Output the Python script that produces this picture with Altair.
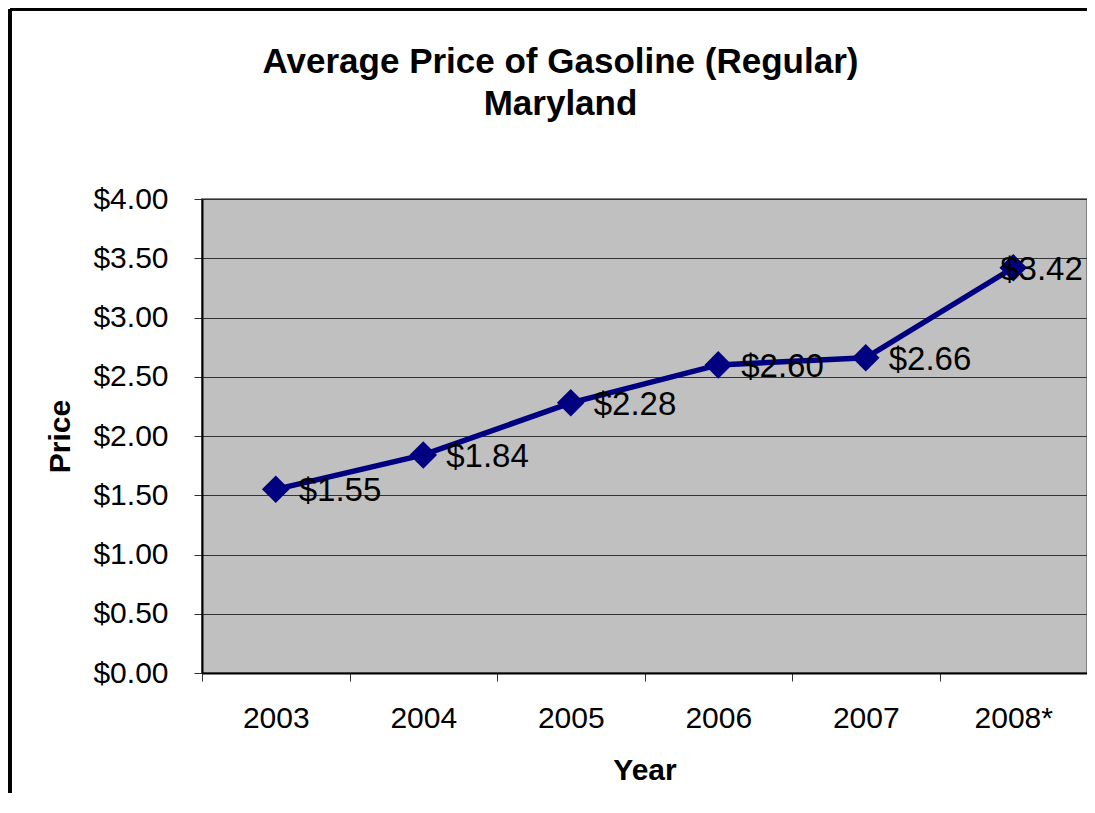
import altair as alt
import pandas as pd

years = ["2003", "2004", "2005", "2006", "2007", "2008*"]
prices = [1.55, 1.84, 2.28, 2.60, 2.66, 3.42]
labels = ["$1.55", "$1.84", "$2.28", "$2.60", "$2.66", "$3.42"]
y_ticks = [0, 0.5, 1, 1.5, 2, 2.5, 3, 3.5, 4]
title_lines = ["Average Price of Gasoline (Regular)", "Maryland"]

df = pd.DataFrame({"Year": years, "Price": prices, "Label": labels})

FONT = "Liberation Sans"

x_enc = alt.X(
    "Year:N",
    sort=years,
    scale=alt.Scale(type="band", paddingInner=0, paddingOuter=0),
    axis=alt.Axis(
        title="Year",
        labelAngle=0,
        tickBand="extent",
        tickSize=8,
        tickColor="#333333",
        domainColor="black",
        domainWidth=2,
        labelFont=FONT,
        labelFontSize=30,
        labelColor="black",
        labelPadding=22,
        titleFont=FONT,
        titleFontSize=30,
        titleFontWeight="bold",
        titleColor="black",
        titlePadding=22,
        grid=False,
    ),
)
y_enc = alt.Y(
    "Price:Q",
    scale=alt.Scale(domain=[0, 4], nice=False, zero=True),
    axis=alt.Axis(
        title="Price",
        values=y_ticks,
        format="$.2f",
        tickSize=8,
        tickColor="#333333",
        domainColor="black",
        domainWidth=2,
        grid=True,
        gridColor="#333333",
        gridWidth=1,
        labelFont=FONT,
        labelFontSize=30,
        labelColor="black",
        labelPadding=26,
        titleFont=FONT,
        titleFontSize=30,
        titleFontWeight="bold",
        titleColor="black",
        titlePadding=17,
    ),
)

base = alt.Chart(df)

border_left = base.mark_rule(color="black", strokeWidth=3).encode(
    x=alt.value(-192), y=alt.value(-190), y2=alt.value(700)
)
border_top = base.mark_rule(color="black", strokeWidth=3).encode(
    x=alt.value(-192), x2=alt.value(1000), y=alt.value(-190)
)

line = base.mark_line(color="#000080", strokeWidth=5.5).encode(x=x_enc, y=y_enc)
points = base.mark_point(
    shape="diamond", filled=True, color="#000080", size=760, opacity=1
).encode(x=x_enc, y=y_enc)

text_main = base.transform_filter(alt.datum.Year != "2008*").mark_text(
    align="left", baseline="middle", dx=23, dy=2, font=FONT, fontSize=33, color="black"
).encode(x=x_enc, y=y_enc, text="Label:N")
text_last = base.transform_filter(alt.datum.Year == "2008*").mark_text(
    align="left", baseline="middle", dx=-13, dy=2, font=FONT, fontSize=33, color="black"
).encode(x=x_enc, y=y_enc, text="Label:N")

chart = (
    alt.layer(border_left, border_top, line, points, text_main, text_last)
    .properties(
        width=885,
        height=474,
        title=alt.TitleParams(
            text=title_lines,
            font=FONT,
            fontSize=35,
            fontWeight="bold",
            color="black",
            anchor="middle",
            dx=-84,
            offset=0,
            dy=114,
            lineHeight=42,
        ),
        padding={"left": 194, "top": 191, "right": 0, "bottom": 120},
        autosize=alt.AutoSizeParams(type="none"),
        background="white",
    )
    .configure_view(fill="#C0C0C0", stroke="#808080", strokeWidth=2)
)

chart.save("out.html", embed_options={"renderer": "svg", "actions": False})
